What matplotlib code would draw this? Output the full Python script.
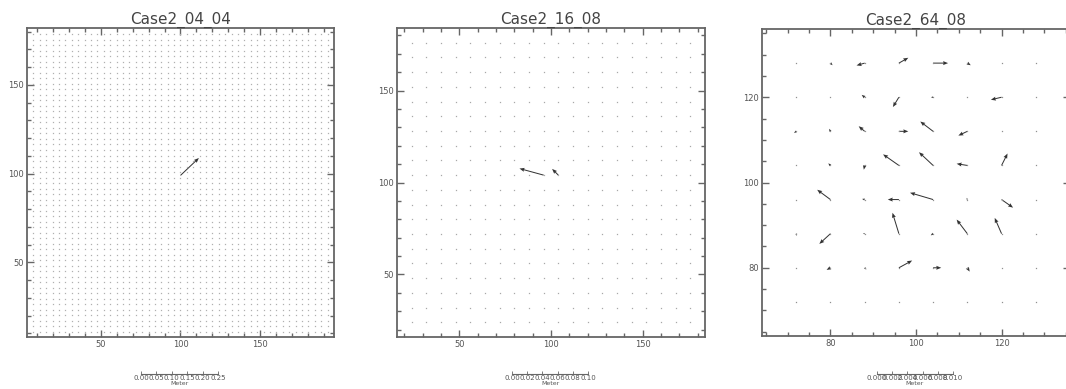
import matplotlib
matplotlib.use("Agg")
import matplotlib.pyplot as plt
from matplotlib.ticker import MultipleLocator
import numpy as np

titles = ["Case2_04_04", "Case2_16_08", "Case2_64_08"]

# grid points of each case
grid1_x = np.arange(8, 193, 4)
grid1_y = np.arange(11.0, 180.0, 3.1)
grid2_x = np.arange(24, 177, 8)
grid2_y = np.arange(24, 177, 8)
grid3_x = np.arange(72, 129, 8)
grid3_y = np.arange(72, 129, 8)

# non-zero vectors: tail x, tail y, u, v (data units)
vec1_x = [100]
vec1_y = [99]
vec1_u = [11.5]
vec1_v = [9.8]

vec2_x = [96, 104]
vec2_y = [104, 104]
vec2_u = [-13.2, -3.4]
vec2_v = [3.6, 3.4]

vec3_x = [80, 88, 96, 104, 112,
          88, 96, 104, 120,
          72, 80, 88, 96, 104, 112,
          80, 88, 96, 104, 112, 120,
          80, 88, 96, 104, 112, 120,
          72, 80, 88, 96, 104, 112, 120,
          80, 88, 96, 104, 112]
vec3_y = [128, 128, 128, 128, 128,
          120, 120, 120, 120,
          112, 112, 112, 112, 112, 112,
          104, 104, 104, 104, 104, 104,
          96, 96, 96, 96, 96, 96,
          88, 88, 88, 88, 88, 88, 88,
          80, 80, 80, 80, 80]
vec3_u = [0.5, -1.9, 2.2, 3.5, 0.8,
          -0.7, -1.4, -0.5, -2.5,
          -0.5, -0.3, -1.4, 2.2, -3.0, -2.1,
          -0.5, -0.2, -3.7, -3.3, -2.5, 1.4,
          -3.1, -0.6, -2.6, -5.4, -0.15, 2.7,
          0.15, -2.6, -0.4, -1.5, -0.55, -2.5, -1.6,
          -0.9, 0.4, 3.1, 1.9, 0.55]
vec3_v = [-0.5, -0.55, 1.25, 0.0, -0.5,
          0.55, -2.3, 0.0, -0.6,
          -0.4, 0.6, 1.2, 0.0, 2.3, -1.0,
          0.5, -1.0, 2.6, 3.1, 0.4, 2.8,
          2.3, 0.15, 0.0, 1.6, 0.4, -1.9,
          -0.5, -2.4, 0.0, 4.9, -0.4, 3.3, 3.7,
          -0.5, -0.4, 1.7, 0.0, -0.9]

xlims = [(4, 196), (16, 184), (64, 136)]
ylims = [(8, 182), (16, 184), (64, 136)]
major = [50, 50, 20]
minor = [10, 10, 5]

scale_ticks = [[0.00, 0.05, 0.10, 0.15, 0.20, 0.25],
               [0.00, 0.02, 0.04, 0.06, 0.08, 0.10],
               [0.000, 0.002, 0.004, 0.006, 0.008, 0.010]]
scale_fmt = ["%.2f", "%.2f", "%.3f"]

W, H = 1066, 389
# axes boxes in pixels: left, top, right, bottom
boxes = [(27, 28, 334, 337), (397, 28, 705, 337), (762, 29, 1070, 336)]
scale_boxes = [(141, 218), (512, 588), (877, 953)]

grids = [(grid1_x, grid1_y), (grid2_x, grid2_y), (grid3_x, grid3_y)]
vecs = [(vec1_x, vec1_y, vec1_u, vec1_v),
        (vec2_x, vec2_y, vec2_u, vec2_v),
        (vec3_x, vec3_y, vec3_u, vec3_v)]
dot_colors = ["#b0b0b0", "#a8a8a8", "#909090"]

fig = plt.figure(figsize=(W / 100, H / 100), dpi=100)
axcol = "#666666"
txtcol = "#555555"

for i in range(3):
    l, t, r, b = boxes[i]
    ax = fig.add_axes([l / W, (H - b) / H, (r - l) / W, (b - t) / H])
    gx, gy = np.meshgrid(grids[i][0], grids[i][1])
    ax.plot(gx.ravel(), gy.ravel(), ls="none", marker="s", ms=0.9,
            mew=0, color=dot_colors[i])
    vx, vy, vu, vv = vecs[i]
    ax.quiver(vx, vy, vu, vv, angles="xy", scale_units="xy", scale=1,
              pivot="tail", units="dots", width=1.0, headwidth=4,
              headlength=5, headaxislength=4.5, minlength=0.5,
              color="#333333")
    ax.set_xlim(xlims[i])
    ax.set_ylim(ylims[i])
    ax.xaxis.set_major_locator(MultipleLocator(major[i]))
    ax.yaxis.set_major_locator(MultipleLocator(major[i]))
    ax.xaxis.set_minor_locator(MultipleLocator(minor[i]))
    ax.yaxis.set_minor_locator(MultipleLocator(minor[i]))
    ax.tick_params(which="both", direction="in", top=True, right=True,
                   color=axcol, width=1.0, labelsize=6, labelcolor=txtcol,
                   pad=2)
    ax.tick_params(which="major", length=5)
    ax.tick_params(which="minor", length=3)
    for s in ax.spines.values():
        s.set_color(axcol)
        s.set_linewidth(1.3)
    ax.set_title(titles[i], fontsize=11, color="#444444", pad=3)

    # velocity scale bar below each panel
    sl, sr = scale_boxes[i]
    sax = fig.add_axes([sl / W, (H - 374) / H, (sr - sl) / W, 0.0005])
    sax.set_xlim(scale_ticks[i][0], scale_ticks[i][-1])
    sax.set_xticks(scale_ticks[i])
    sax.set_xticklabels([scale_fmt[i] % v for v in scale_ticks[i]])
    sax.set_yticks([])
    for k in ["top", "left", "right"]:
        sax.spines[k].set_visible(False)
    sax.spines["bottom"].set_color(axcol)
    sax.spines["bottom"].set_linewidth(0.8)
    sax.tick_params(axis="x", direction="in", length=2, width=0.6,
                    color=axcol, labelsize=5, labelcolor=txtcol, pad=1)
    sax.set_xlabel("Meter", fontsize=4.5, color=txtcol, labelpad=0)
    sax.patch.set_visible(False)

fig.savefig("out.png", dpi=100)
